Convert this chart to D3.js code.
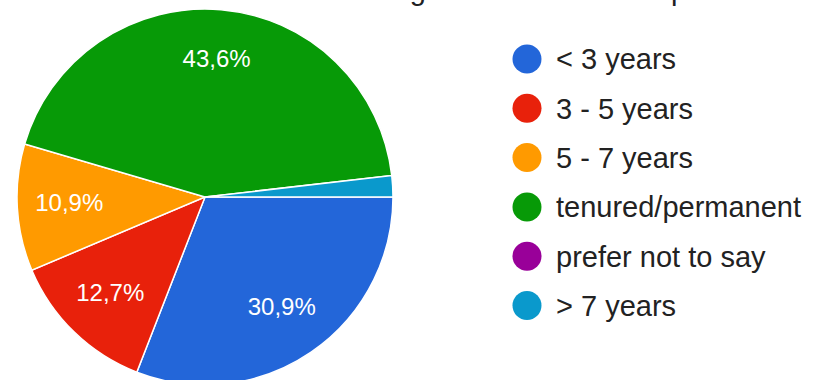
<!DOCTYPE html>
<html>
<head>
<meta charset="utf-8">
<script src="https://cdn.jsdelivr.net/npm/d3@7"></script>
<style>
  body { margin: 0; background: #fff; }
  svg { display: block; font-family: "Liberation Sans", Arial, sans-serif; }
</style>
</head>
<body>
<svg id="drawing_region"></svg>
<script>
// survey answers (count of respondents)
const categories = ["< 3 years", "3 - 5 years", "5 - 7 years", "tenured/permanent", "prefer not to say", "> 7 years"];
const counts = [17, 7, 6, 24, 0, 1];
const colors = ["#2366d9", "#e8210b", "#ff9a00", "#079a07", "#990099", "#0a99cc"];
const titleText = "The length of the academic position";

const data = categories.map((c, i) => ({label: c, value: counts[i], color: colors[i]}));

const config = {
    width: 826,
    height: 380,
    cx: 205,
    cy: 197,
    radius: 188,
    labelRadius: 136,
    legend: {x: 527, y: 59, step: 49.3, r: 14.5}
};

const svg = d3.select('#drawing_region')
    .attr('width', config.width)
    .attr('height', config.height);

// title: only the descenders are inside the picture
svg.append('text')
    .attr('x', 313)
    .attr('y', 0)
    .attr('font-size', '29px')
    .attr('fill', '#202124')
    .text(titleText);

const total = d3.sum(counts);

const pie = d3.pie()
    .value(d => d.value)
    .sort(null)
    .startAngle(Math.PI / 2)
    .endAngle(Math.PI / 2 + 2 * Math.PI);

const arc = d3.arc()
    .innerRadius(0)
    .outerRadius(config.radius);

const labelArc = d3.arc()
    .innerRadius(config.labelRadius)
    .outerRadius(config.labelRadius);

const chart = svg.append('g')
    .attr('transform', `translate(${config.cx}, ${config.cy})`);

const arcs = pie(data);

chart.selectAll('path')
    .data(arcs.filter(d => d.data.value > 0))
    .enter()
    .append('path')
    .attr('d', arc)
    .attr('fill', d => d.data.color)
    .attr('stroke', 'white')
    .style('stroke-width', '1.5px');

const fmt = v => (v * 100).toFixed(1).replace('.', ',') + '%';

chart.selectAll('text.pct')
    .data(arcs.filter(d => d.data.value / total > 0.05))
    .enter()
    .append('text')
    .attr('class', 'pct')
    .attr('transform', d => `translate(${labelArc.centroid(d)})`)
    .attr('text-anchor', 'middle')
    .attr('dy', '0.25em')
    .attr('font-size', '24px')
    .attr('fill', 'white')
    .text(d => fmt(d.data.value / total));

// legend
const legendY = d3.scaleLinear()
    .domain([0, 1])
    .range([config.legend.y, config.legend.y + config.legend.step]);

const legend = svg.append('g');

const items = legend.selectAll('g')
    .data(data)
    .enter()
    .append('g')
    .attr('transform', (d, i) => `translate(${config.legend.x}, ${legendY(i)})`);

items.append('circle')
    .attr('r', config.legend.r)
    .attr('fill', d => d.color);

items.append('text')
    .attr('x', 29)
    .attr('dy', '0.36em')
    .attr('font-size', '29px')
    .attr('fill', '#222')
    .text(d => d.label);
</script>
</body>
</html>
